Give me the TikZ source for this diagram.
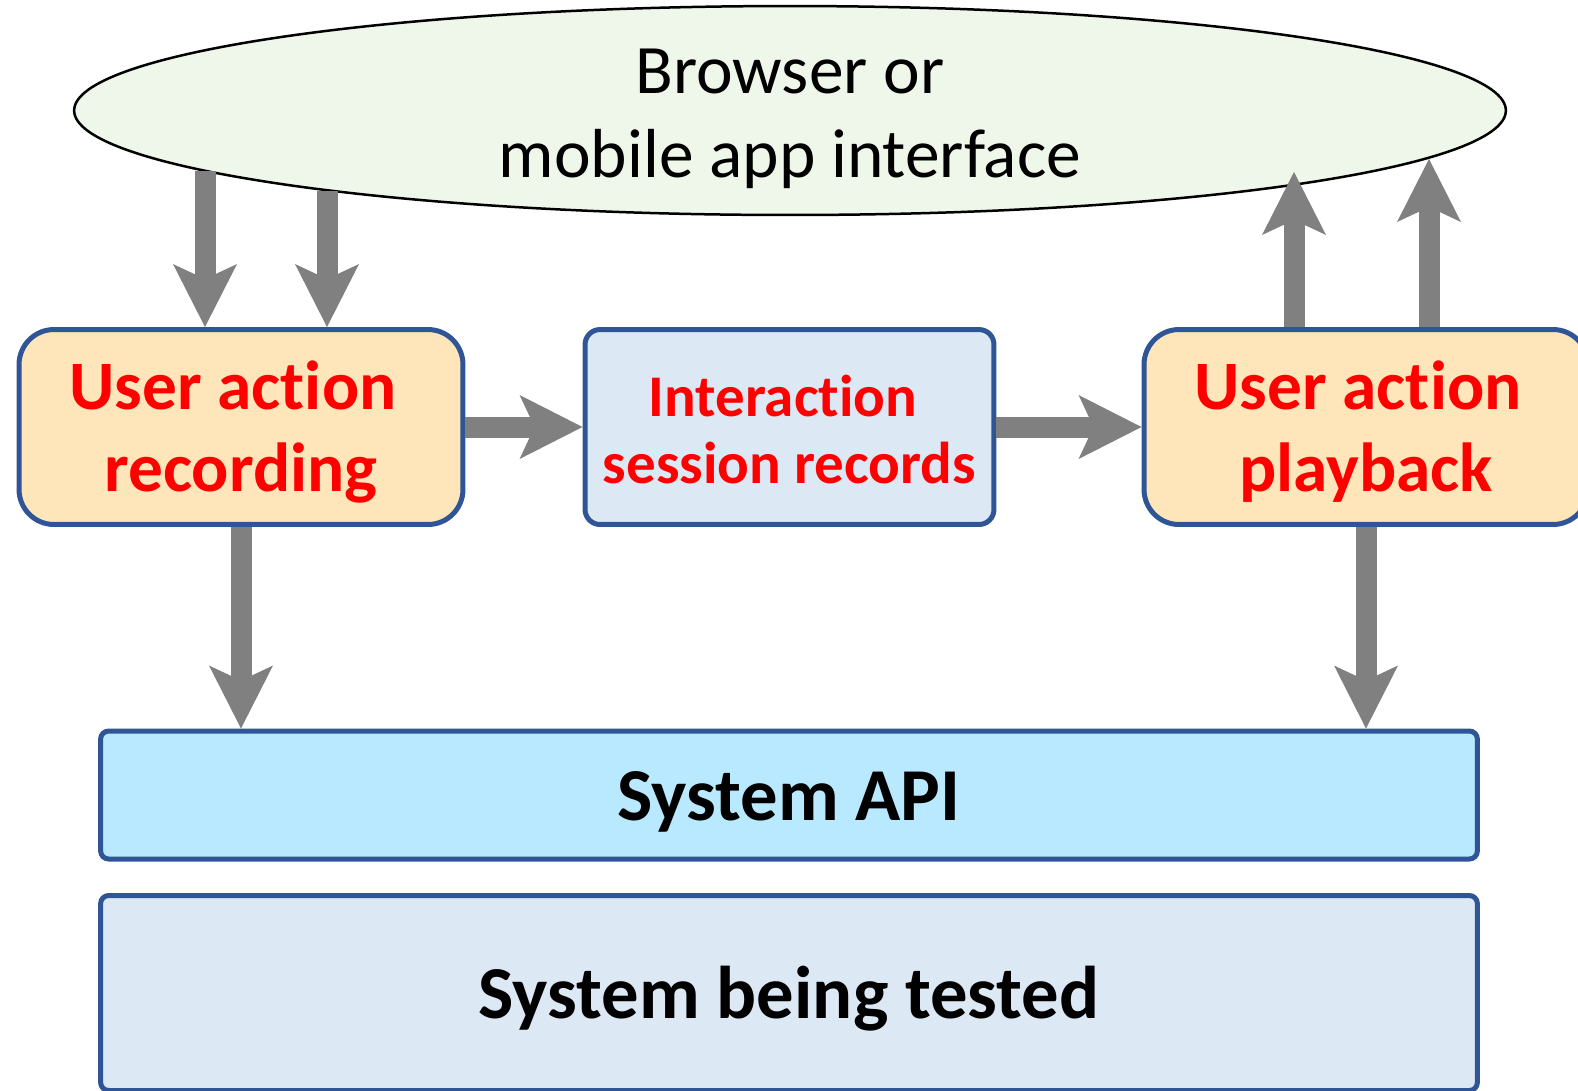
\documentclass[tikz,border=0pt]{standalone}
\usepackage{fontspec}
\setmainfont[Ligatures=NoCommon]{Carlito}
\usetikzlibrary{arrows.meta,positioning,shapes.geometric}
\definecolor{tbblue}{RGB}{47,85,151}
\definecolor{tbgray}{RGB}{128,128,128}
\definecolor{tborange}{RGB}{255,230,186}
\definecolor{tbpale}{RGB}{221,232,245}
\definecolor{tbsky}{RGB}{185,233,254}
\definecolor{tbgreen}{RGB}{239,247,234}

\begin{document}
\begin{tikzpicture}[x=0.02cm,y=-0.02cm,
    toolbox/.style={draw=tbblue,line width=0.1cm,fill=tborange,rounded corners=0.7cm,
        minimum width=8.88cm,minimum height=3.9cm,align=center,text=red,
        text height=3.0cm,text depth=0.44cm,
        font=\fontsize{39.5}{46.2}\selectfont\bfseries},
    layerbox/.style={draw=tbblue,line width=0.1cm,rounded corners=0.16cm,
        minimum width=27.54cm,align=center,text height=1.31cm,text depth=0.3cm,
        font=\fontsize{42.5}{50}\selectfont\bfseries},
    flow/.style={draw=tbgray,line width=0.42cm,
        -{Stealth[length=1.26cm,width=1.28cm,inset=0.3cm,line width=0pt]}}]
  \useasboundingbox (0,0) rectangle (1578,1090);
  \clip (0,0) rectangle (1578,1090);

  % Browser / app interface (top)
  \node[ellipse,draw=black,line width=0.05cm,fill=tbgreen,inner sep=0pt,
        minimum width=28.64cm,minimum height=4.18cm] (browser) at (790,110.5) {};
  \node[align=center,font=\fontsize{39.5}{47.6}\selectfont] (browsertext) at (790,119)
        {Browser or\\mobile app interface};

  % Recording, records, playback
  \node[toolbox] (rec) at (241,427) {User action\hspace*{0.32cm}\\recording};
  \node[toolbox,fill=tbpale,rounded corners=0.3cm,minimum width=8.18cm,
        text height=2.68cm,font=\fontsize{33.6}{38}\selectfont\bfseries] (inter) at (789.5,427)
        {Interaction\hspace*{0.26cm}\\session records};
  \node[toolbox] (play) at (1366,427) {User action\hspace*{0.32cm}\\playback};

  % API and system (bottom)
  \node[layerbox,fill=tbsky,minimum height=2.56cm] (api) at (789,795) {System API};
  \node[layerbox,fill=tbpale,minimum height=3.9cm] (tested) at (789,993) {System being tested};

  % Ends on the ellipse
  \coordinate (in1) at (205,171);
  \coordinate (in2) at (327,191);
  \coordinate (out1) at (1294,172);
  \coordinate (out2) at (1429,159);

  % Flows
  \draw[flow] (in1) -- (in1 |- rec.north);
  \draw[flow] (in2) -- (in2 |- rec.north);
  \draw[flow] (rec.east) -- (inter.west);
  \draw[flow] (inter.east) -- (play.west);
  \draw[flow] (out1 |- play.north) -- (out1);
  \draw[flow] (out2 |- play.north) -- (out2);
  \draw[flow] (rec.south) -- (rec.south |- api.north);
  \draw[flow] (play.south) -- (play.south |- api.north);
\end{tikzpicture}
\end{document}
